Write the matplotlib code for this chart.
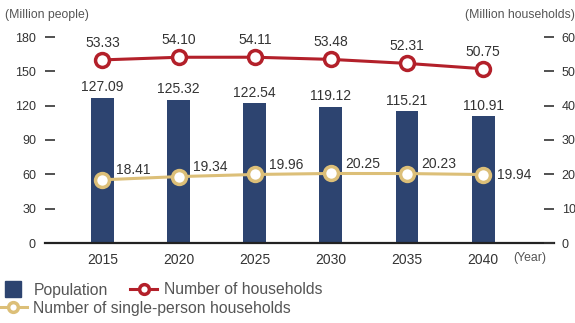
import numpy as np
import matplotlib
matplotlib.use("Agg")
import matplotlib.pyplot as plt
from matplotlib.lines import Line2D

plt.rcParams['font.family'] = ['Liberation Sans', 'DejaVu Sans']

years = ['2015', '2020', '2025', '2030', '2035', '2040']
population = [127.09, 125.32, 122.54, 119.12, 115.21, 110.91]
households = [53.33, 54.10, 54.11, 53.48, 52.31, 50.75]
single_households = [18.41, 19.34, 19.96, 20.25, 20.23, 19.94]

left_ticks = [0, 30, 60, 90, 120, 150, 180]
right_ticks = [0, 10, 20, 30, 40, 50, 60]

navy = '#2d4470'
red = '#b3202a'
gold = '#dcbf78'
dark = '#333333'
grey = '#555555'

x = np.arange(len(years))

fig = plt.figure(figsize=(5.75, 3.23), dpi=100)
ax = fig.add_axes([45 / 575, 1 - 243 / 323, (554 - 45) / 575, (243 - 37) / 323])
ax2 = ax.twinx()

# population bars on the left scale
ax.bar(x, population, width=0.30, color=navy, zorder=2)
for xi, v in zip(x, population):
    ax.annotate(f'{v:.2f}', (xi, v), xytext=(0, 4.5), textcoords='offset points',
                ha='center', va='baseline', fontsize=10, color=dark)

ax.set_xlim(-0.755, 5.93)
ax.set_ylim(0, 180)
ax.set_yticks(left_ticks)
ax.set_xticks(x)
ax.set_xticklabels(years)
ax.tick_params(axis='x', length=0, pad=7, labelsize=10, colors=dark)
ax.tick_params(axis='y', direction='in', length=7, width=1.2, pad=6.5,
               labelsize=9, colors=dark)
for s in ['left', 'right', 'top']:
    ax.spines[s].set_visible(False)
ax.spines['bottom'].set_linewidth(1.6)
ax.spines['bottom'].set_color('#222222')
ax.spines['bottom'].set_zorder(5)

# household lines on the right scale
ax2.plot(x, households, color=red, lw=2.2, marker='o', ms=10, mew=2.5,
         mfc='white', mec=red, zorder=3)
ax2.plot(x, single_households, color=gold, lw=2.2, marker='o', ms=10, mew=2.5,
         mfc='white', mec=gold, zorder=3)
for xi, v in zip(x, households):
    ax2.annotate(f'{v:.2f}', (xi, v), xytext=(0, 9.5), textcoords='offset points',
                 ha='center', va='baseline', fontsize=10, color=dark)
for i, (xi, v) in enumerate(zip(x, single_households)):
    if i == len(x) - 1:
        ax2.annotate(f'{v:.2f}', (xi, v), xytext=(10, 0), textcoords='offset points',
                     ha='left', va='center', fontsize=10, color=dark)
    else:
        ax2.annotate(f'{v:.2f}', (xi, v), xytext=(10, 4), textcoords='offset points',
                     ha='left', va='baseline', fontsize=10, color=dark)

ax2.set_ylim(0, 60)
ax2.set_yticks(right_ticks)
ax2.tick_params(axis='y', direction='in', length=7, width=1.2, pad=5.5,
                labelsize=9, colors=dark)
for s in ax2.spines.values():
    s.set_visible(False)

# unit labels
fig.text(5 / 575, 1 - 15 / 323, '(Million people)', fontsize=8.8, color=grey,
         ha='left', va='center')
fig.text(575 / 575, 1 - 15 / 323, '(Million households)', fontsize=8.8, color=grey,
         ha='right', va='center')
ax.annotate('(Year)', (1, 0), xycoords='axes fraction', xytext=(-29.5, -11),
            textcoords='offset points', fontsize=8.8, color=grey, ha='left', va='center')

# legend, two rows
h_pop = Line2D([], [], ls='none', marker='s', ms=11.5, color=navy)
h_hh = Line2D([], [], color=red, lw=2.2, marker='o', ms=7, mew=2.5, mfc='white', mec=red)
h_single = Line2D([], [], color=gold, lw=2.2, marker='o', ms=7, mew=2.5,
                  mfc='white', mec=gold)
fig.legend([h_pop, h_hh], ['Population', 'Number of households'],
           loc='center left', bbox_to_anchor=(0.0, 1 - 290 / 323), ncol=2,
           frameon=False, fontsize=11.3, handlelength=1.72, handletextpad=0.4,
           columnspacing=1.45, borderpad=0, borderaxespad=0, labelcolor=grey)
fig.legend([h_single], ['Number of single-person households'],
           loc='center left', bbox_to_anchor=(0.0, 1 - 308 / 323),
           frameon=False, fontsize=11.3, handlelength=1.72, handletextpad=0.4,
           borderpad=0, borderaxespad=0, labelcolor=grey)

fig.savefig('out.png', dpi=100)
